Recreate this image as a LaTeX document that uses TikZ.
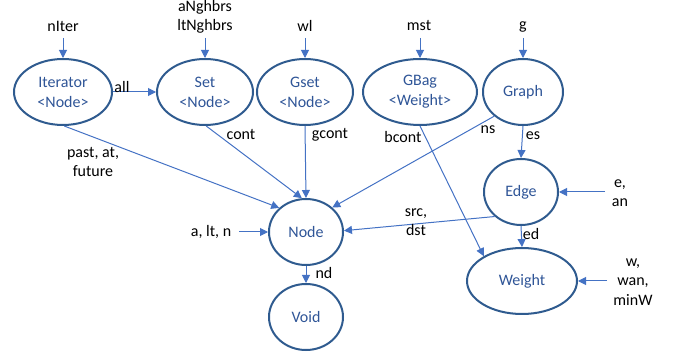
\documentclass[tikz,border=0pt]{standalone}
\usepackage{fontspec}
\setmainfont{Carlito}
\usetikzlibrary{arrows.meta,shapes.geometric}
\definecolor{ringc}{HTML}{2F5B8F}
\definecolor{txtc}{HTML}{2F5597}
\definecolor{arrc}{HTML}{4472C4}
\begin{document}
\begin{tikzpicture}[x=1pt,y=-1pt,
  ent/.style={ellipse,draw=ringc,line width=2pt,inner sep=0pt,text=txtc,align=center,font=\fontsize{16}{20}\selectfont},
  lbl/.style={align=center,font=\fontsize{16}{19.5}\selectfont,inner sep=0pt,text=black},
  conn/.style={draw=arrc,line width=1pt,-{Triangle[length=8pt,width=8pt]}}]
\useasboundingbox (0,0) rectangle (673,358);
% entities
\node[ent,minimum width=98pt,minimum height=66pt] (it) at (63,92) {Iterator\\<Node>};
\node[ent,minimum width=96pt,minimum height=66pt] (set) at (205,92) {Set\\<Node>};
\node[ent,minimum width=96pt,minimum height=66pt] (gset) at (305,92) {Gset\\<Node>};
\node[ent,minimum width=114pt,minimum height=66pt] (gbag) at (420,92) {GBag\\<Weight>};
\node[ent,minimum width=80pt,minimum height=66pt] (graph) at (523,92) {Graph};
\node[ent,minimum width=74pt,minimum height=66pt] (edge) at (521,192) {Edge};
\node[ent,minimum width=110pt,minimum height=66pt] (weight) at (522,281) {Weight};
\node[ent,minimum width=74pt,minimum height=66pt] (node) at (306,232) {Node};
\node[ent,minimum width=74pt,minimum height=66pt] (void) at (306,317) {Void};
% input labels
\node[lbl] (lIt) at (63,26) {nIter};
\node[lbl] (lSet) at (205,17) {aNghbrs\\ltNghbrs};
\node[lbl] (lGset) at (305,26) {wl};
\node[lbl] (lGbag) at (419,26) {mst};
\node[lbl] (lGraph) at (523,27) {g};
\node[lbl] (lNode) at (211,232) {a, lt, n};
\node[lbl] (lEdge) at (620,193) {e,\\an};
\node[lbl] (lWeight) at (633,282) {w,\\wan,\\minW};
\coordinate (cIt) at (63,38);
\coordinate (cSet) at (205,38);
\coordinate (cGset) at (305,38);
\coordinate (cGbag) at (420,38);
\coordinate (cGraph) at (523,38);
\coordinate (cNode) at (239,232);
\coordinate (cEdge) at (605,192);
\coordinate (cWeight) at (607,281);
\draw[conn] (cIt) -- (it.north);
\draw[conn] (cSet) -- (set.north);
\draw[conn] (cGset) -- (gset.north);
\draw[conn] (cGbag) -- (gbag.north);
\draw[conn] (cGraph) -- (graph.north);
\draw[conn] (cNode) -- (node.west);
\draw[conn] (cEdge) -- (edge.east);
\draw[conn] (cWeight) -- (weight.east);
% relations
\draw[conn] (it.east) -- (set.west);
\draw[conn] (it.272) -- (node.138);
\draw[conn] (set.272) -- (node.97);
\draw[conn] (gset.south) -- (node.north);
\draw[conn] (graph.-140) -- (node.43);
\draw[conn] (edge.223) -- (node.2);
\draw[conn] (gbag.south) -- (weight.147);
\draw[conn] (graph.south) -- (edge.north);
\draw[conn] (edge.south) -- (weight.north);
\draw[conn] (node.south) -- (void.north);
% relation labels
\node[lbl] (tAll) at (122,87) {all};
\node[lbl] (tPast) at (93,162) {past, at,\\future};
\node[lbl] (tCont) at (241,135) {cont};
\node[lbl] (tGcont) at (330,135) {gcont};
\node[lbl] (tBcont) at (403,137) {bcont};
\node[lbl] (tNs) at (488,130) {ns};
\node[lbl] (tEs) at (533,136) {es};
\node[lbl] (tSrc) at (416,222) {src,\\dst};
\node[lbl] (tEd) at (531,234) {ed};
\node[lbl] (tNd) at (324,273) {nd};
\end{tikzpicture}
\end{document}
